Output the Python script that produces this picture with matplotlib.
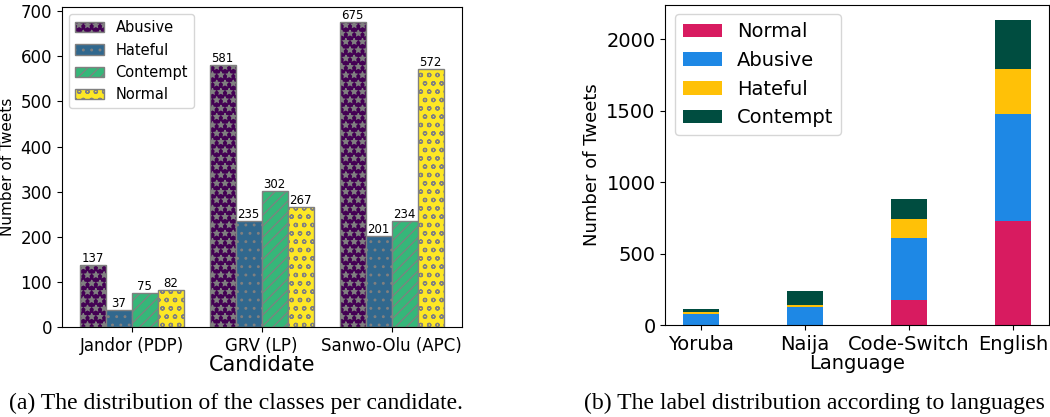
import matplotlib as mpl
import matplotlib.pyplot as plt
import numpy as np

mpl.use("Agg")
plt.rcParams["font.family"] = ["DejaVu Sans"]
plt.rcParams["hatch.linewidth"] = 0.9

# (a) classes per candidate
candidates = ["Jandor (PDP)", "GRV (LP)", "Sanwo-Olu (APC)"]
classes_a = ["Abusive", "Hateful", "Contempt", "Normal"]
abusive_a = [137, 581, 675]
hateful_a = [37, 235, 201]
contempt_a = [75, 302, 234]
normal_a = [82, 267, 572]

# (b) labels per language
languages = ["Yoruba", "Naija", "Code-Switch", "English"]
normal_b = [0, 0, 177, 730]
abusive_b = [79, 123, 434, 747]
hateful_b = [14, 14, 131, 315]
contempt_b = [21, 103, 140, 343]

fig = plt.figure(figsize=(10.5, 4.17), dpi=100)

# ---- left plot ----
ax1 = fig.add_axes([0.0587, 0.2158, 0.381, 0.767])
x = np.arange(len(candidates))
w = 0.2
colors_a = ["#440154", "#31688e", "#35b779", "#fde725"]
hatches = ["**", "..", "///", "oo"]
series_a = [abusive_a, hateful_a, contempt_a, normal_a]
for i, (vals, lab) in enumerate(zip(series_a, classes_a)):
    bars = ax1.bar(x + (i - 1.5) * w, vals, w, label=lab, color=colors_a[i],
                   edgecolor="gray", hatch=hatches[i], linewidth=1)
    ax1.bar_label(bars, fontsize=8.5, padding=0)
ax1.set_xticks(x)
ax1.set_xticklabels(candidates, fontsize=12)
ax1.tick_params(axis="y", labelsize=12)
ax1.set_xlabel("Candidate", fontsize=15, labelpad=0)
ax1.set_ylabel("Number of Tweets", fontsize=11)
ax1.legend(loc="upper left", fontsize=10.5)

# ---- right plot ----
ax2 = fig.add_axes([0.6336, 0.2206, 0.3651, 0.768])
xl = np.arange(len(languages))
colors_b = ["#d81b60", "#1e88e5", "#ffc107", "#004d40"]
series_b = [normal_b, abusive_b, hateful_b, contempt_b]
names_b = ["Normal", "Abusive", "Hateful", "Contempt"]
bottom = np.zeros(len(languages))
for vals, lab, c in zip(series_b, names_b, colors_b):
    ax2.bar(xl, vals, 0.35, bottom=bottom, label=lab, color=c)
    bottom += np.array(vals)
ax2.set_xticks(xl)
ax2.set_xticklabels(languages, fontsize=14)
ax2.tick_params(axis="y", labelsize=14)
ax2.set_xlabel("Language", fontsize=14, labelpad=0)
ax2.set_ylabel("Number of Tweets", fontsize=13)
ax2.legend(loc="upper left", fontsize=14)

# captions
fig.text(0.225, 0.033, "(a) The distribution of the classes per candidate.",
         ha="center", va="center", family="Liberation Serif", fontsize=17)
fig.text(0.776, 0.033, "(b) The label distribution according to languages",
         ha="center", va="center", family="Liberation Serif", fontsize=17)

plt.savefig("out.png")
